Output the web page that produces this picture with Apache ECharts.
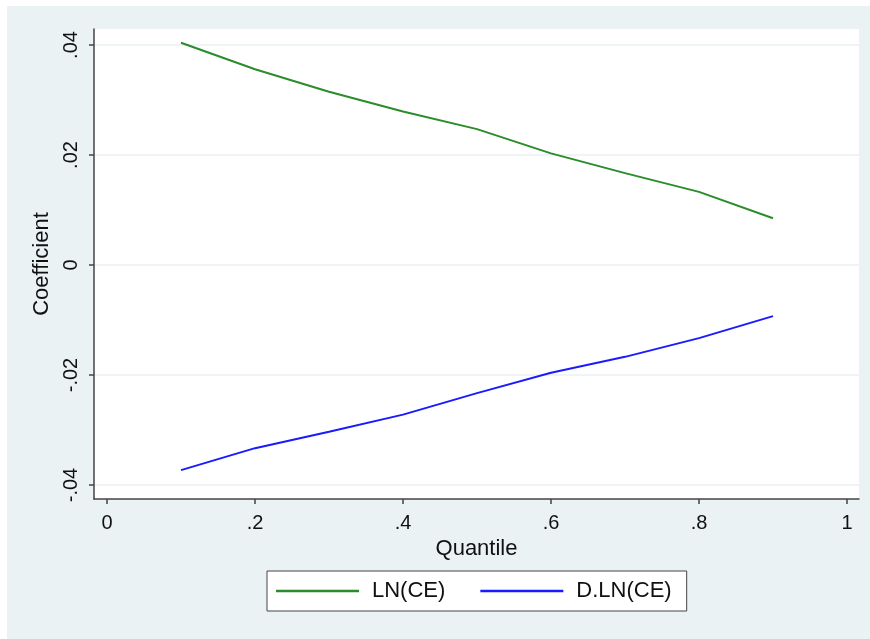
<!DOCTYPE html>
<html>
<head>
<meta charset="utf-8">
<script src="https://cdn.jsdelivr.net/npm/echarts@6/dist/echarts.min.js"></script>
<style>
html,body{margin:0;padding:0;background:#fff;}
#chart{width:870px;height:639px;}
</style>
</head>
<body>
<div id="chart"></div>
<script>
var quantiles = [0.1, 0.2, 0.3, 0.4, 0.5, 0.6, 0.7, 0.8, 0.9];
var lnCE = [0.0404, 0.0356, 0.0315, 0.0279, 0.0247, 0.0203, 0.0167, 0.0133, 0.0085];
var dlnCE = [-0.0373, -0.0333, -0.0303, -0.0272, -0.0233, -0.0196, -0.0167, -0.0133, -0.0093];
var xTicks = [0, 0.2, 0.4, 0.6, 0.8, 1];
var xTickLabels = ['0', '.2', '.4', '.6', '.8', '1'];
var yTicks = [-0.04, -0.02, 0, 0.02, 0.04];
var yTickLabels = ['-.04', '-.02', '0', '.02', '.04'];

function fmt(ticks, labels) {
  return function (v) {
    for (var i = 0; i < ticks.length; i++) {
      if (Math.abs(ticks[i] - v) < 1e-9) return labels[i];
    }
    return '';
  };
}

var chart = echarts.init(document.getElementById('chart'), null, {renderer: 'canvas'});
var font = 'Liberation Sans, Arial, sans-serif';
chart.setOption({
  backgroundColor: '#ffffff',
  animation: false,
  graphic: [{
    type: 'rect', z: -10, silent: true,
    shape: {x: 7, y: 6, width: 863, height: 633},
    style: {fill: '#eaf2f3'}
  }],
  grid: {
    left: 94, top: 29, right: 11, bottom: 140,
    show: true, backgroundColor: '#ffffff', borderWidth: 0
  },
  legend: {
    left: 267, top: 571,
    padding: [9, 15, 9, 9],
    backgroundColor: '#ffffff',
    borderColor: '#444444', borderWidth: 1,
    itemWidth: 83, itemHeight: 2.5, itemGap: 35,
    icon: 'rect',
    textStyle: {fontFamily: font, fontSize: 22, color: '#111111', padding: [0, 0, 0, 8]},
    data: [
      {name: 'LN(CE)', itemStyle: {color: '#2a8c2a'}},
      {name: 'D.LN(CE)', itemStyle: {color: '#1a1aff'}}
    ]
  },
  xAxis: {
    type: 'value',
    min: -0.0176, max: 1.0162,
    name: 'Quantile', nameLocation: 'middle', nameGap: 36,
    nameTextStyle: {fontFamily: font, fontSize: 22, color: '#111111'},
    axisLine: {show: true, onZero: false, lineStyle: {color: '#444444', width: 1.5}},
    axisTick: {show: true, length: 5, customValues: xTicks, lineStyle: {color: '#444444', width: 1.5}},
    axisLabel: {show: true, customValues: xTicks, formatter: fmt(xTicks, xTickLabels), margin: 14,
      fontFamily: font, fontSize: 20, color: '#111111'},
    splitLine: {show: false}
  },
  yAxis: {
    type: 'value',
    min: -0.042545, max: 0.042909,
    name: 'Coefficient', nameLocation: 'middle', nameGap: 34, nameRotate: 90,
    nameTextStyle: {fontFamily: font, fontSize: 22, color: '#111111'},
    axisLine: {show: true, onZero: false, lineStyle: {color: '#444444', width: 1.5}},
    axisTick: {show: true, length: 5, customValues: yTicks, lineStyle: {color: '#444444', width: 1.5}},
    axisLabel: {show: true, customValues: yTicks, formatter: fmt(yTicks, yTickLabels), rotate: 90, margin: 13,
      fontFamily: font, fontSize: 20, color: '#111111'},
    splitLine: {show: true, lineStyle: {color: '#eaf2f3', width: 1.5}}
  },
  series: [
    {
      name: 'LN(CE)', type: 'line', showSymbol: false, symbol: 'none',
      lineStyle: {color: '#2a8c2a', width: 2},
      itemStyle: {color: '#2a8c2a'},
      data: quantiles.map(function (q, i) { return [q, lnCE[i]]; })
    },
    {
      name: 'D.LN(CE)', type: 'line', showSymbol: false, symbol: 'none',
      lineStyle: {color: '#1a1aff', width: 2},
      itemStyle: {color: '#1a1aff'},
      data: quantiles.map(function (q, i) { return [q, dlnCE[i]]; })
    }
  ]
});
</script>
</body>
</html>
